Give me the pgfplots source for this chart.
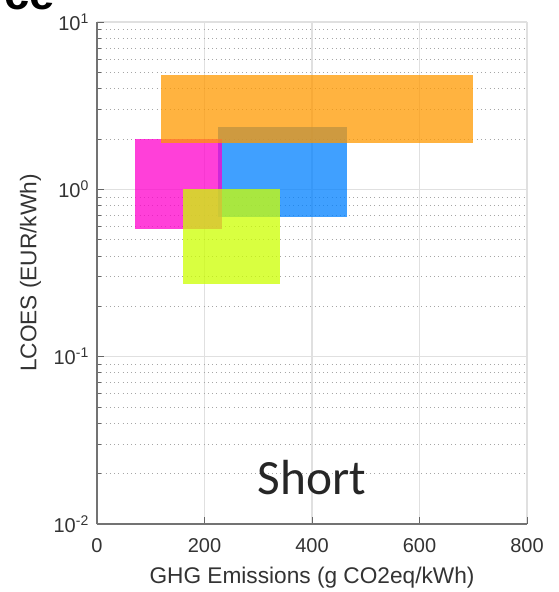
\documentclass[border=0pt]{standalone}
\usepackage{pgfplots}
\pgfplotsset{compat=1.18}
\usepackage{fontspec}
\setmainfont{Liberation Sans}
\newfontfamily\carlito{Carlito}
\definecolor{cOrange}{RGB}{255,153,0}
\definecolor{cMagenta}{RGB}{255,0,204}
\definecolor{cBlue}{RGB}{0,128,255}
\definecolor{cYellow}{RGB}{204,255,0}
\begin{document}
\begin{tikzpicture}
\path[use as bounding box] (-72.75pt,-51pt) rectangle (346.5pt,393pt);
\begin{axis}[
  at={(0pt,0pt)}, anchor=south west,
  scale only axis, width=322.5pt, height=376.5pt,
  xmin=0, xmax=800, ymin=0.01, ymax=10, ymode=log,
  axis x line*=bottom, axis y line*=left,
  x axis line style={-}, y axis line style={-},
  axis line style={black!55, line width=1pt},
  xtick={0,200,400,600,800},
  ytick={0.01,0.1,1,10},
  yticklabels={10\textsuperscript{-2},10\textsuperscript{-1},10\textsuperscript{0},10\textsuperscript{1}},
  /pgf/number format/assume math mode=true,
  grid=both,
  major grid style={black!12, line width=0.9pt},
  minor grid style={black!35, line width=0.6pt, dash pattern=on 0.6pt off 2.6pt},
  tick align=inside,
  major tick length=5pt, minor tick length=3pt,
  tick style={black!60, line width=0.6pt},
  ticklabel style={font=\fontsize{15}{16}\selectfont, text=black!80},
  xticklabel style={yshift=-7pt},
  yticklabel style={xshift=-2.5pt},
  label style={font=\fontsize{17}{19}\selectfont, text=black!80},
  xlabel={GHG Emissions (g CO2eq/kWh)},
  ylabel={LCOES (EUR/kWh)},
  xlabel style={yshift=-4.5pt},
  ylabel style={yshift=2.5pt},
  clip=false,
]
\addplot[draw=none, fill=cBlue, fill opacity=0.75] coordinates {(225,0.68) (466,0.68) (466,2.35) (225,2.35)} -- cycle;
\addplot[draw=none, fill=cMagenta, fill opacity=0.75] coordinates {(70,0.58) (233,0.58) (233,2.0) (70,2.0)} -- cycle;
\addplot[draw=none, fill=cOrange, fill opacity=0.75] coordinates {(120,1.9) (700,1.9) (700,4.8) (120,4.8)} -- cycle;
\addplot[draw=none, fill=cYellow, fill opacity=0.75] coordinates {(160,0.27) (341,0.27) (341,1.0) (160,1.0)} -- cycle;
\node[anchor=base, font=\carlito\fontsize{37}{37}\selectfont, text=black!85] at (axis cs:400,0.0151) {Short};
\end{axis}
\node[anchor=base east, inner sep=0pt, font=\fontsize{34}{34}\selectfont\bfseries] at (-31.5pt,385.5pt) {ce};
\end{tikzpicture}
\end{document}
